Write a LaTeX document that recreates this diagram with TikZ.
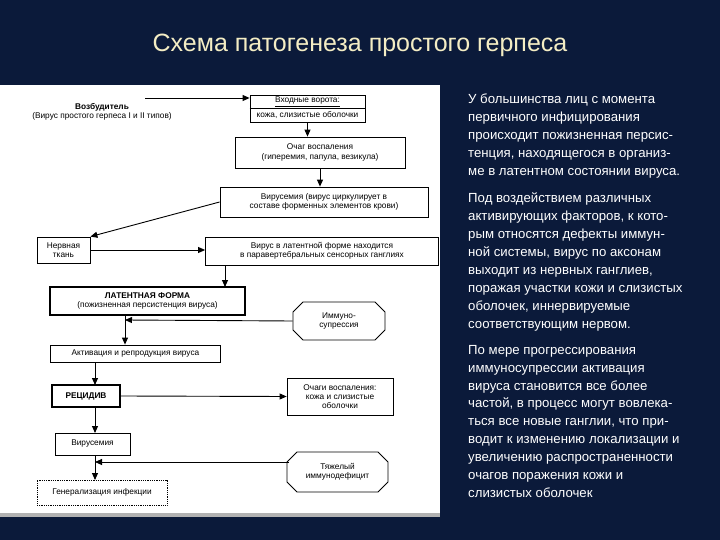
\documentclass[tikz,border=0pt]{standalone}
\usepackage{fontspec}
\setmainfont{Liberation Sans}
\usetikzlibrary{shapes.misc,arrows.meta}
\definecolor{bgtop}{HTML}{0B1A3A}
\definecolor{titlec}{HTML}{F4EDC4}
\begin{document}
\begin{tikzpicture}[x=1pt,y=-1pt,
  bx/.style={draw,line width=0.8pt,align=center,font=\fontsize{8.3}{9.3}\selectfont,inner sep=1pt},
  thick box/.style={bx,line width=1.8pt},
  oct/.style={bx,chamfered rectangle,chamfered rectangle xsep=4pt,chamfered rectangle ysep=6pt},
  arr/.style={-{Triangle[length=7pt,width=6pt]},line width=0.9pt},
  rt/.style={anchor=north west,text=white,align=left,font=\fontsize{13.2}{17.9}\selectfont,inner sep=0pt}]
\fill[bgtop] (0,0) rectangle (720,540);
\fill[white] (0,85) rectangle (440,515);
\fill[gray!60] (0,513) rectangle (440,517);
\node[text=titlec,font=\fontsize{25}{30}\selectfont] (title) at (360,45) {Схема патогенеза простого герпеса};
% diagram
\node[align=center,font=\fontsize{8.3}{9.5}\selectfont] (vozb) at (102,112) {\textbf{Возбудитель}\\(Вирус простого герпеса I и II типов)};
\node[bx,minimum width=115pt,minimum height=27pt] (vhod) at (307.5,108.5) {};
\draw[line width=0.8pt] (vhod.west) -- (vhod.east);
\node[font=\fontsize{8.3}{9.3}\selectfont] at (307.5,102) {\underline{Входные ворота:}};
\node[font=\fontsize{8.3}{9.3}\selectfont] at (307.5,115) {кожа, слизистые оболочки};
\node[bx,minimum width=170pt,minimum height=31pt] (ochag) at (320,152.5) {Очаг воспаления\\(гиперемия, папула, везикула)};
\node[bx,minimum width=208pt,minimum height=30pt] (virem) at (324,202) {Вирусемия (вирус циркулирует в\\составе форменных элементов крови)};
\node[bx,minimum width=53pt,minimum height=26pt] (nerv) at (63.5,250) {Нервная\\ткань};
\node[bx,minimum width=233pt,minimum height=28pt] (latv) at (322,251) {Вирус в латентной форме находится\\в паравертебральных сенсорных ганглиях};
\node[thick box,minimum width=195pt,minimum height=28pt] (latf) at (147.5,301) {\textbf{ЛАТЕНТНАЯ ФОРМА}\\(пожизненная персистенция вируса)};
\node[oct,minimum width=92pt,minimum height=38pt] (immun) at (339,321) {Иммуно-\\супрессия};
\node[bx,minimum width=170pt,minimum height=17pt,anchor=west] (activ) at (50,353.5) {Активация и репродукция вируса};
\node[thick box,minimum width=68pt,minimum height=22pt] (recid) at (86,396) {\textbf{РЕЦИДИВ}};
\node[bx,minimum width=106pt,minimum height=37pt] (ochagi) at (340,396.5) {Очаги воспаления:\\кожа и слизистые\\оболочки};
\node[bx,minimum width=75pt,minimum height=22pt] (virem2) at (92.5,444) {Вирусемия};
\node[oct,minimum width=101pt,minimum height=40pt] (tyazh) at (337.5,472) {Тяжелый\\иммунодефицит};
\node[bx,densely dotted,minimum width=130pt,minimum height=25pt] (gener) at (102,492.5) {Генерализация инфекции};
\coordinate (j1) at (125,320);
\coordinate (j2) at (95,462);
\coordinate (t2in) at (289,462);
% connectors
\draw[arr] (145,98) -- (vhod.west|-145,98);
\draw[arr] (vhod.south) -- (vhod.south|-ochag.north);
\draw[arr] (ochag.south) -- (ochag.south|-virem.north);
\draw[arr] (virem.west) -- (nerv.north east);
\draw[arr] (nerv.east) -- (nerv.east-|latv.west);
\draw[arr] (225,265) -- (225,287);
\draw[line width=0.9pt] (j1|-latf.south) -- (j1);
\draw[arr] (j1) -- (j1|-activ.north);
\draw[arr] (immun.west) -- (j1);
\draw[arr] (95,362) -- (95,385);
\draw[arr] (recid.east) -- (ochagi.west);
\draw[arr] (95,407) -- (95,433);
\draw[line width=0.9pt] (95,455) -- (j2);
\draw[arr] (t2in) -- (j2);
\draw[arr] (j2) -- (95,480);
% right text
\node[rt] (t1) at (468,94) {У большинства лиц с момента\\первичного инфицирования\\происходит пожизненная персис-\\тенция, находящегося в организ-\\ме в латентном состоянии вируса.};
\node[rt] (t2) at (468,193) {Под воздействием различных\\активирующих факторов, к кото-\\рым относятся дефекты иммун-\\ной системы, вирус по аксонам\\выходит из нервных ганглиев,\\поражая участки кожи и слизистых\\оболочек, иннервируемые\\соответствующим нервом.};
\node[rt] (t3) at (468,345) {По мере прогрессирования\\иммуносупрессии активация\\вируса становится все более\\частой, в процесс могут вовлека-\\ться все новые ганглии, что при-\\водит к изменению локализации и\\увеличению распространенности\\очагов поражения кожи и\\слизистых оболочек};
\end{tikzpicture}
\end{document}
